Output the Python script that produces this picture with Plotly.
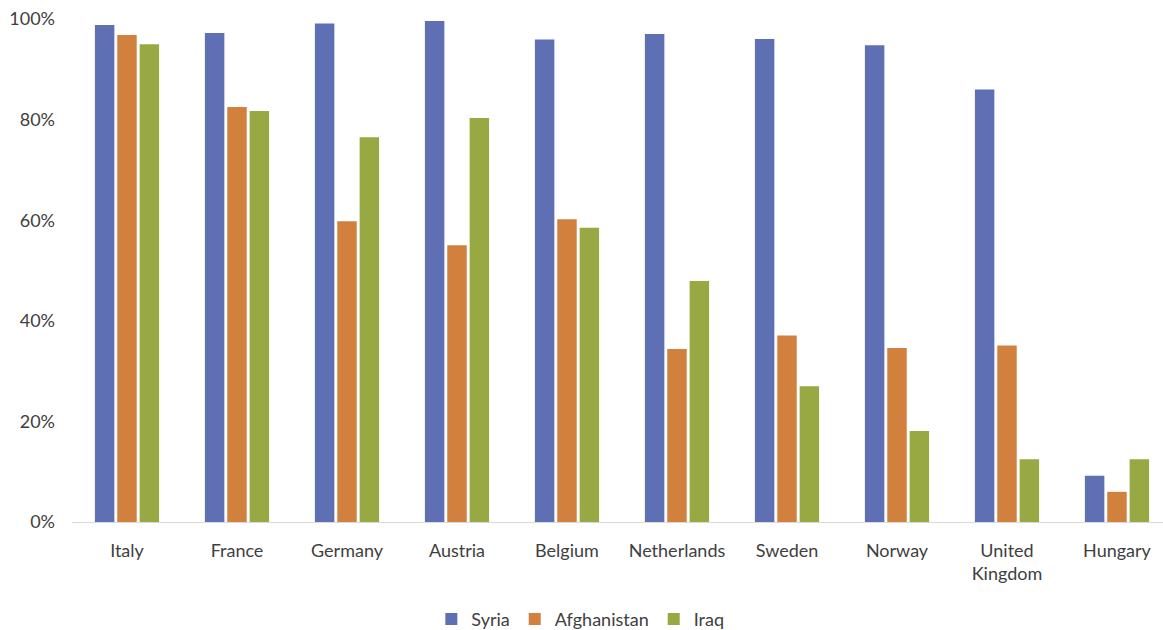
import plotly.graph_objects as go

countries = ["Italy", "France", "Germany", "Austria", "Belgium", "Netherlands",
             "Sweden", "Norway", "United<br>Kingdom", "Hungary"]
syria = [0.988, 0.972, 0.991, 0.996, 0.959, 0.970, 0.960, 0.948, 0.860, 0.092]
afghanistan = [0.968, 0.825, 0.598, 0.550, 0.602, 0.344, 0.371, 0.346, 0.351, 0.060]
iraq = [0.950, 0.817, 0.765, 0.803, 0.585, 0.479, 0.270, 0.181, 0.125, 0.125]

series = [("Syria", syria, "#5E6FB3"),
          ("Afghanistan", afghanistan, "#D1813D"),
          ("Iraq", iraq, "#98A843")]

fig = go.Figure()
for name, vals, color in series:
    fig.add_trace(go.Bar(x=list(range(len(countries))), y=vals, name=name,
                         marker=dict(color=color, line=dict(width=0))))

font_family = "Lato, 'Open Sans', sans-serif"
fig.update_layout(
    width=1163, height=630,
    margin=dict(l=72, r=0, t=19, b=108),
    paper_bgcolor="white", plot_bgcolor="white",
    barmode="group", bargap=0.39, bargroupgap=0.13,
    font=dict(family=font_family, size=18, color="#404040"),
    showlegend=True,
    legend=dict(orientation="h", xref="container", yref="container",
                x=0.499, xanchor="center", y=0.017, yanchor="middle",
                font=dict(size=18, color="#404040"),
                itemwidth=30, traceorder="normal"),
    xaxis=dict(tickmode="array", tickvals=list(range(len(countries))),
               ticktext=countries, range=[-0.5, -0.5 + 1091 / 110],
               showgrid=False, showline=True, linecolor="#D9D9D9",
               linewidth=1, ticks="", ticklabelstandoff=12, zeroline=False,
               automargin=False),
    yaxis=dict(range=[0, 1], tickvals=[0, 0.2, 0.4, 0.6, 0.8, 1.0],
               tickformat=".0%", showgrid=False, zeroline=False,
               showline=False, ticks="", ticklabelstandoff=16,
               automargin=False),
)

fig.write_html("out.html")
